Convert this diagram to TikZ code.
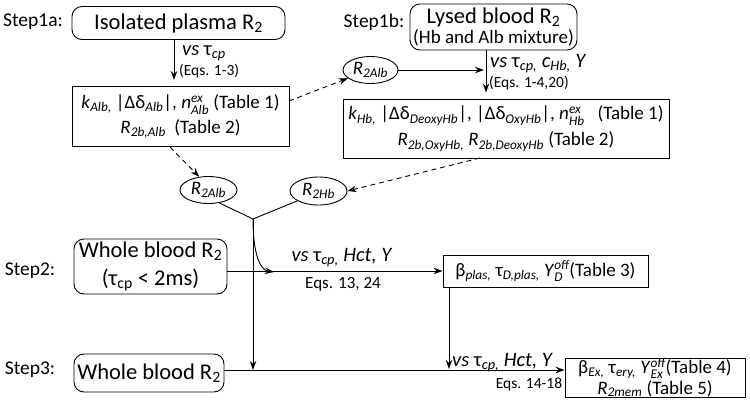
\documentclass[tikz,border=0pt]{standalone}
\usepackage{amsmath}
\usepackage{fontspec}
\setmainfont{Carlito}
\usetikzlibrary{arrows.meta,shapes.geometric,calc}
\newcommand\sbs[1]{\textsubscript{\itshape #1}}
\newcommand\ssb[2]{$^{\textit{#1}}_{\textit{#2}}$}
\newcommand\fT{\fontsize{22.5}{24}\selectfont}
\newcommand\fS{\fontsize{19.5}{22}\selectfont}
\newcommand\fB{\fontsize{19}{23}\selectfont}
\newcommand\fL{\fontsize{20.5}{22}\selectfont}
\newcommand\fE{\fontsize{15.5}{17}\selectfont}
\newcommand\fQ{\fontsize{17}{19}\selectfont}
\begin{document}
\begin{tikzpicture}[x=1pt,y=-1pt,
  box/.style={draw, line width=0.9pt, inner sep=0pt, align=center},
  rbox/.style={box, rounded corners=10pt},
  oval/.style={draw, ellipse, inner sep=0pt, line width=0.9pt},
  arr/.style={-{Stealth[length=9pt,width=6.5pt]}, line width=0.9pt},
  darr/.style={arr, dash pattern=on 5pt off 4pt},
  plain/.style={line width=0.9pt},
  lbl/.style={inner sep=0pt},
]
\useasboundingbox (0,0) rectangle (750,402);
% step labels
\node[lbl] (s1a) at (33,22) {\fS Step1a:};
\node[lbl] (s1b) at (374,22) {\fS Step1b:};
\node[lbl] (s2l) at (30,271) {\fS Step2:};
\node[lbl] (s3l) at (30,370) {\fS Step3:};
% boxes
\node[rbox, minimum width=213pt, minimum height=33pt, font=\fT] (iso) at (178.5,23) {Isolated plasma R\textsubscript{2}};
\node[rbox, minimum width=167pt, minimum height=46pt, font=\fontsize{22.5}{20}\selectfont] (lys) at (493.5,27) {Lysed blood R\textsubscript{2}\\{\fB (Hb and Alb mixture)}};
\node[box, minimum width=217pt, minimum height=60pt, font=\fontsize{19}{25}\selectfont] (alb) at (180.5,116.5) {\textit{k}\sbs{Alb,} |Δδ\sbs{Alb}|, \textit{n}\ssb{ex}{Alb} (Table 1)\\\textit{R}\sbs{2b,Alb}~ (Table 2)};
\node[box, minimum width=326pt, minimum height=59pt, font=\fontsize{19}{26}\selectfont] (hb) at (506,128.5) {\textit{k}\sbs{Hb,} |Δδ\sbs{DeoxyHb}|, |Δδ\sbs{OxyHb}|, \textit{n}\ssb{ex}{Hb}~~ (Table 1)\\\textit{R}\sbs{2b,OxyHb,} \textit{R}\sbs{2b,DeoxyHb} (Table 2)};
\node[oval, minimum width=55pt, minimum height=27pt, font=\fB] (e1) at (370.5,70) {\textit{R}\sbs{2Alb}};
\node[oval, minimum width=57pt, minimum height=27pt, font=\fB] (e2) at (208.5,190) {\textit{R}\sbs{2Alb}};
\node[oval, minimum width=57pt, minimum height=28pt, font=\fB] (e3) at (318.5,191) {\textit{R}\sbs{2Hb}};
\node[rbox, minimum width=153pt, minimum height=55pt, font=\fontsize{22.5}{28}\selectfont] (s2) at (150.5,266.5) {Whole blood R\textsubscript{2}\\(τ\textsubscript{cp} < 2ms)};
\node[box, minimum width=205pt, minimum height=32pt, font=\fB] (t3) at (545.5,271) {β\sbs{plas,} τ\sbs{D,plas,} \textit{Y}\ssb{off}{D}(Table 3)};
\node[rbox, minimum width=150pt, minimum height=38pt, font=\fT] (s3) at (149,373) {Whole blood R\textsubscript{2}};
\node[box, minimum width=180pt, minimum height=39pt, font=\fontsize{19}{20.5}\selectfont] (t4) at (655,377.5) {β\sbs{Ex,} τ\sbs{ery,} \textit{Y}\ssb{off}{Ex}(Table 4)\\\textit{R}\sbs{2mem} (Table 5)};
% helper coordinates
\coordinate (ax1) at (174,0);
\coordinate (ax2) at (486,0);
\coordinate (j) at (253,219);
\coordinate (c2) at (274,272);
\coordinate (l3) at (0,370);
\coordinate (v3) at (449,0);
\coordinate (da) at (289,101);
\coordinate (db) at (170,147);
\coordinate (dc) at (480,158);
% step 1a
\draw[arr] (iso.south -| ax1) -- ($(alb.north -| ax1)+(0,-6)$);
\node[lbl, anchor=west] (lb1) at (182,53) {\fL\textit{vs} τ\sbs{cp}};
\node[lbl, anchor=west] (lb2) at (179,71) {\fE(Eqs. 1-3)};
% step 1b
\draw[arr] (lys.south -| ax2) -- ($(hb.north -| ax2)+(0,-6)$);
\node[lbl, anchor=west] (lb3) at (490,64) {\fL\textit{vs} τ\sbs{cp,} \textit{c}\sbs{Hb,} \textit{Y}};
\node[lbl, anchor=west] (lb4) at (489,83) {\fE(Eqs. 1-4,20)};
\draw[arr] (e1.east) -- ($(e1.east -| ax2)+(-2,0)$);
% dashed
\draw[darr] (da) -- (e1.200);
\draw[darr] (db) -- (e2.125);
\draw[darr] (dc) -- (e3.east);
% merge
\draw[plain] (e2.-50) -- (j);
\draw[plain] (e3.205) -- (j);
\draw[arr] (j) -- (j |- l3);
\draw[arr] (j) .. controls +(0,35) and +(-14,-2) .. (c2);
% step 2
\draw[arr] (s2.east |- t3.west) -- (t3.west);
\node[lbl] (lb5) at (342,258) {\fL\textit{vs} τ\sbs{cp,} \textit{Hct, Y}};
\node[lbl] (lb6) at (343,284) {\fQ Eqs. 13, 24};
% step 3
\draw[arr] (t3.south -| v3) -- ($(v3 |- l3)+(0,-1)$);
\draw[arr] (s3.east |- l3) -- (t4.west |- l3);
\node[lbl, anchor=west] (lb7) at (452,363) {\fL\textit{vs} τ\sbs{cp,} \textit{Hct, Y}};
\node[lbl] (lb8) at (529,384) {\fE Eqs. 14-18};
\end{tikzpicture}
\end{document}
